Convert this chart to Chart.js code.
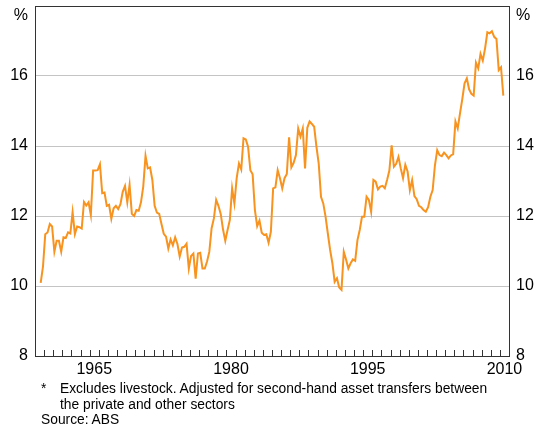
<!DOCTYPE html>
<html><head><meta charset="utf-8">
<script src="https://cdn.jsdelivr.net/npm/chart.js@4.4.1/dist/chart.umd.min.js"></script>
<style>
html,body{margin:0;padding:0;background:#fff;}
#wrap{position:relative;width:541px;height:431px;overflow:hidden;}
canvas{position:absolute;left:0;top:0;}
.note{position:absolute;font-family:"Liberation Sans",Arial,sans-serif;font-size:13.8px;color:#000;line-height:15.5px;white-space:nowrap;}
</style></head><body>
<div id="wrap"><canvas id="c" width="541" height="431"></canvas>
<div class="note" style="left:41px;top:381px;">*</div>
<div class="note" style="left:60px;top:381px;">Excludes livestock. Adjusted for second-hand asset transfers between<br>the private and other sectors</div>
<div class="note" style="left:41px;top:412px;">Source: ABS</div>
</div>
<script>
// Quarterly series, first observation: September quarter 1959
const startYear = 1959.625;
const values1959to1976 = [10.09,10.55,11.48,11.53,11.77,11.70,10.98,11.29,11.29,10.98,11.39,11.37,11.53,11.50,12.11,11.48,11.70,11.68,11.64,12.40,12.30,12.39,12.03,13.30,13.30,13.31,13.48,12.65,12.67,12.29,12.32,11.92,12.22,12.29,12.20,12.34,12.69,12.86,12.39,12.89,12.06,12.00,12.17,12.15,12.39,12.84,13.72,13.36,13.39,13.03,12.29,12.10,12.06,11.77,11.49,11.41,11.07,11.33,11.16,11.39,11.20,10.84,11.10,11.12,11.21,10.50,10.86,10.93,10.21,10.93];
const values1977to1994 = [10.95,10.50,10.50,10.70,10.98,11.65,11.93,12.46,12.29,12.06,11.62,11.29,11.60,11.89,12.79,12.36,13.08,13.50,13.33,14.22,14.19,13.98,13.31,13.19,12.17,11.71,11.87,11.52,11.46,11.48,11.24,11.55,12.79,12.82,13.31,13.08,12.79,13.08,13.20,14.25,13.39,13.52,13.74,14.50,14.27,14.50,13.36,14.52,14.70,14.63,14.55,13.98,13.50,12.55,12.36,11.98,11.50,11.03,10.65,10.12,10.22,9.96,9.89,10.98,10.76,10.50,10.65,10.76,10.72,11.31,11.60];
const values1994to2010 = [11.98,11.98,12.55,12.46,12.12,13.03,12.98,12.76,12.84,12.86,12.79,13.03,13.30,14.02,13.41,13.49,13.69,13.36,13.08,13.46,13.27,12.74,13.03,12.57,12.48,12.29,12.25,12.17,12.12,12.25,12.55,12.74,13.45,13.88,13.74,13.71,13.81,13.74,13.65,13.73,13.77,14.70,14.50,14.93,15.34,15.79,15.93,15.62,15.49,15.44,16.38,16.22,16.63,16.44,16.79,17.25,17.22,17.28,17.12,17.06,16.17,16.25,15.44];
const xTickYears = [1965, 1980, 1995, 2010];
const yTickValues = [8, 10, 12, 14, 16];

const values = values1959to1976.concat(values1977to1994, values1994to2010);
const points = values.map((v, i) => ({ x: startYear + i * 0.25, y: v }));

Chart.defaults.font.family = '"Liberation Sans", Arial, sans-serif';
Chart.defaults.font.size = 16;
Chart.defaults.color = '#000';

const framePlugin = {
  id: 'frame',
  afterDraw(chart) {
    const { ctx, chartArea: a, scales: { x } } = chart;
    ctx.save();
    ctx.strokeStyle = '#333';
    ctx.lineWidth = 1;
    ctx.beginPath();
    for (let yr = Math.ceil(x.min); yr <= x.max; yr++) {
      const px = Math.round(x.getPixelForValue(yr)) + 0.5;
      ctx.moveTo(px, a.bottom);
      ctx.lineTo(px, a.bottom - 6);
    }
    ctx.stroke();
    ctx.strokeRect(Math.round(a.left) + 0.5, Math.round(a.top) + 0.5,
      Math.round(a.right - a.left), Math.round(a.bottom - a.top));
    ctx.fillStyle = '#000';
    ctx.font = '16px "Liberation Sans", Arial, sans-serif';
    ctx.textBaseline = 'middle';
    ctx.textAlign = 'right';
    ctx.fillText('%', a.left - 7, a.top + 10);
    ctx.textAlign = 'left';
    ctx.fillText('%', a.right + 7, a.top + 10);
    ctx.restore();
  }
};

function yTicks(scale) {
  scale.ticks = yTickValues.map(v => ({ value: v }));
}
function noPad(s) {
  s.paddingTop = 0; s.paddingBottom = 0; s.paddingLeft = 0; s.paddingRight = 0;
}

new Chart(document.getElementById('c'), {
  type: 'line',
  data: {
    datasets: [{
      data: points,
      borderColor: '#F7931E',
      borderWidth: 2,
      pointRadius: 0,
      tension: 0,
      fill: false,
      yAxisID: 'y'
    }]
  },
  options: {
    responsive: false,
    animation: false,
    devicePixelRatio: 1,
    layout: { padding: { top: 6, left: 0, right: 0, bottom: 0 } },
    plugins: { legend: { display: false }, tooltip: { enabled: false } },
    scales: {
      x: {
        type: 'linear', min: 1959, max: 2011,
        grid: { display: false, drawTicks: false },
        border: { display: false },
        afterBuildTicks: s => { s.ticks = xTickYears.map(v => ({ value: v + 0.5 })); },
        ticks: { callback: v => String(Math.floor(v)), maxRotation: 0, autoSkip: false, padding: 4 },
        afterFit: s => { s.height = 75; noPad(s); }
      },
      y: {
        position: 'left', min: 8, max: 18,
        afterBuildTicks: yTicks,
        grid: { color: '#c4c4c4', lineWidth: 1, drawTicks: false },
        border: { display: false },
        ticks: { callback: v => String(v), padding: 7 },
        afterFit: s => { s.width = 35; noPad(s); }
      },
      y2: {
        position: 'right', min: 8, max: 18,
        afterBuildTicks: yTicks,
        grid: { display: false, drawTicks: false },
        border: { display: false },
        ticks: { callback: v => String(v), padding: 7 },
        afterFit: s => { s.width = 32; noPad(s); }
      }
    }
  },
  plugins: [framePlugin]
});
</script>
</body></html>
